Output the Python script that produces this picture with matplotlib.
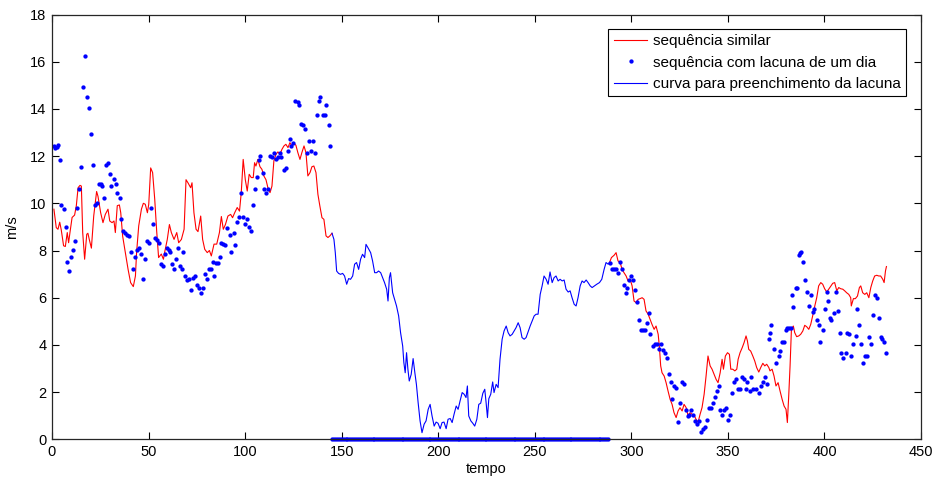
import matplotlib
matplotlib.use("Agg")
import matplotlib.pyplot as plt

plt.rcParams['font.family'] = ['Liberation Sans', 'DejaVu Sans']

# ---- red line: similar sequence (first day) ----
red1_x = [1.0, 2.2, 3.1, 4.0, 4.8, 6.0, 6.9, 7.9, 8.6, 9.3, 10.4, 11.7, 12.6, 13.5, 14.5, 15.2, 15.9,
          16.9, 18.0, 18.6, 19.3, 20.4, 21.6, 23.1, 23.8, 25.2, 26.4, 27.6, 29.0, 29.9, 31.1, 32.1, 32.8,
          33.8, 34.9, 35.6, 36.6, 38.0, 39.4, 40.7, 42.1, 43.2, 43.8, 44.9, 46.3, 47.3, 48.3, 49.4, 50.1,
          51.1, 52.1, 53.2, 54.2, 55.2, 56.6, 57.7, 58.3, 59.7, 60.8, 61.8, 63.2, 64.6, 65.6, 67.0, 68.4,
          69.4, 70.4, 71.8, 72.5, 73.5, 74.6, 75.6, 77.0, 78.0, 79.1, 80.4, 81.5, 82.5, 83.9, 85.3, 86.7,
          87.7, 88.7, 89.8, 91.1, 92.5, 93.5, 94.6, 95.9, 97.1, 98.0, 99.0, 100.1, 101.1, 102.1, 103.2,
          104.2, 104.9, 105.6, 106.6, 107.7, 108.7, 109.7, 110.8, 111.8, 112.9, 113.9, 114.9, 116.0,
          117.0, 118.0, 119.1, 120.1, 121.1, 122.2, 123.2, 124.2, 125.3, 126.3, 127.3, 128.4, 129.4,
          130.5, 131.5, 132.5, 133.6, 134.6, 135.6, 136.7, 137.7, 138.7, 139.8, 140.8, 141.9, 142.9,
          143.9, 145.0]
red1_y = [9.75, 8.97, 8.9, 9.2, 8.87, 8.2, 8.17, 8.76, 8.33, 8.76, 9.4, 9.5, 9.9, 10.66, 10.76, 10.73, 8.76,
          7.63, 8.69, 8.73, 8.47, 8.1, 9.46, 10.5, 10.3, 9.6, 9.18, 9.53, 9.75, 9.25, 9.18, 9.25, 8.76,
          9.9, 9.93, 9.6, 8.6, 7.91, 7.2, 6.64, 6.47, 6.92, 7.91, 9.04, 9.75, 10.0, 9.96, 9.6, 9.96,
          11.5, 11.3, 10.17, 8.83, 7.7, 7.85, 7.63, 7.91, 8.47, 9.1, 8.76, 8.47, 8.76, 8.33, 8.47, 8.9,
          11.0, 10.87, 10.66, 10.87, 9.6, 8.9, 8.8, 9.46, 8.47, 8.05, 7.91, 8.0, 7.77, 8.27, 8.27, 8.76,
          9.44, 8.9, 9.1, 9.46, 9.53, 9.39, 9.6, 9.82, 9.67, 10.45, 11.86, 11.0, 10.52, 11.23, 11.09,
          11.09, 11.72, 11.58, 11.86, 11.55, 11.44, 11.16, 11.0, 10.66, 10.45, 10.73, 11.8, 12.08,
          12.18, 12.08, 12.29, 12.43, 12.5, 12.36, 12.57, 12.43, 12.54, 12.46, 12.15, 11.86, 12.15,
          12.43, 12.15, 11.16, 11.3, 11.55, 11.58, 11.3, 10.38, 9.89, 9.39, 9.32, 8.62, 8.55, 8.62,
          8.73]

# ---- blue line: curve filling the gap ----
fill_x = [145.0, 146.0, 146.7, 147.4, 148.4, 149.4, 150.5, 151.5, 152.6, 153.6, 154.6, 155.7, 156.7,
          157.7, 158.8, 159.8, 160.8, 161.9, 162.6, 163.6, 165.0, 166.0, 167.1, 168.1, 169.1, 170.2,
          171.2, 172.2, 173.3, 174.0, 174.7, 175.3, 176.4, 177.4, 178.4, 179.5, 180.5, 181.6, 182.2,
          182.9, 183.6, 184.3, 185.0, 186.0, 187.0, 187.9, 188.7, 189.6, 190.6, 191.6, 192.7, 193.7,
          194.8, 195.8, 196.8, 197.9, 198.9, 199.9, 201.0, 202.0, 203.0, 204.1, 205.1, 206.2, 207.2,
          208.2, 209.3, 210.3, 211.3, 212.4, 213.4, 214.4, 215.1, 215.8, 216.9, 217.9, 218.9, 220.0,
          221.0, 222.0, 223.1, 224.1, 224.8, 225.5, 226.2, 227.2, 228.2, 228.9, 230.0, 231.0, 232.0,
          233.1, 234.1, 235.2, 236.2, 237.2, 238.3, 239.3, 240.3, 241.4, 242.4, 243.4, 244.5, 245.5,
          246.5, 247.6, 248.6, 249.7, 250.7, 251.7, 252.8, 253.8, 254.8, 255.9, 256.9, 257.9, 259.0,
          260.0, 261.0, 262.1, 263.1, 264.2, 265.2, 266.2, 267.3, 268.3, 269.3, 270.4, 271.4, 272.4,
          273.5, 274.5, 275.5, 276.6, 277.6, 278.7, 279.7, 282.1, 283.5, 284.7, 285.9, 286.9, 288.0,
          288.7]
fill_y = [8.73, 8.47, 7.91, 7.13, 7.03, 6.99, 7.03, 6.92, 6.57, 6.81, 6.78, 6.92, 7.42,
          7.49, 7.2, 7.63, 7.84, 7.7, 8.26, 8.12, 7.91, 7.56, 7.06, 7.06, 7.13, 7.06,
          6.85, 6.64, 6.36, 5.86, 6.85, 7.06, 6.21, 5.93, 5.65, 5.23, 4.52, 3.95, 3.25,
          2.82, 3.67, 2.97, 2.47, 2.75, 3.42, 2.82, 2.33, 1.55, 0.78, 0.28, 0.64, 0.78,
          1.27, 1.48, 0.99, 0.56, 0.73, 0.68, 0.45, 0.71, 0.73, 0.45, 0.85, 0.88, 0.71,
          1.06, 1.41, 1.27, 1.62, 1.98, 1.91, 1.77, 2.26, 0.99, 0.78, 0.68, 0.56, 0.85,
          1.48, 1.53, 1.95, 2.12, 1.55, 0.92, 1.72, 1.91, 2.43, 1.98, 2.33, 2.19, 3.39,
          4.24, 4.59, 4.8, 4.52, 4.38, 4.45, 4.59, 4.73, 4.94, 4.73, 4.31, 4.24, 4.31,
          4.55, 4.8, 5.01, 5.23, 5.3, 5.3, 6.14, 6.5, 6.92, 6.78, 6.57, 7.09, 6.64,
          6.85, 6.92, 6.71, 6.78, 6.71, 6.75, 6.36, 6.24, 6.29, 6.0, 5.72, 5.65, 6.0,
          6.5, 6.71, 6.64, 6.75, 6.64, 6.5, 6.43, 6.57, 6.64, 6.78, 7.2, 7.49, 7.42,
          7.49]

# ---- red line: similar sequence (third day) ----
red2_x = [288.7, 289.7, 291.1, 292.1, 293.1, 294.2, 295.2, 296.2, 297.3, 298.3, 299.4, 300.4, 301.4,
          302.5, 303.5, 304.5, 305.6, 306.6, 307.6, 308.7, 309.7, 310.7, 311.8, 312.8, 313.9, 314.5,
          315.2, 315.9, 317.0, 318.0, 319.0, 320.1, 321.1, 322.1, 323.2, 324.2, 325.2, 326.3, 327.3,
          328.4, 329.4, 330.4, 331.5, 332.5, 333.5, 334.6, 335.6, 336.6, 337.7, 338.7, 339.7, 340.8,
          341.8, 342.9, 343.9, 344.9, 346.0, 347.0, 347.7, 348.7, 349.8, 350.8, 351.5, 352.5, 353.6,
          354.6, 355.3, 356.3, 357.4, 358.4, 359.4, 360.1, 360.8, 361.8, 362.9, 363.9, 364.9, 366.0,
          367.0, 368.1, 369.1, 370.1, 371.2, 371.8, 372.9, 373.9, 374.9, 376.0, 377.0, 378.1, 379.1,
          380.1, 380.8, 381.5, 382.2, 382.9, 383.9, 384.6, 385.6, 386.7, 387.7, 388.8, 389.8, 390.8,
          391.9, 392.9, 393.9, 395.0, 396.0, 397.0, 398.1, 399.1, 400.1, 401.2, 402.2, 403.3, 404.3,
          405.3, 406.4, 407.4, 408.4, 409.5, 410.5, 411.5, 412.6, 413.6, 413.9, 415.0, 416.0, 417.1,
          418.1, 418.8, 419.8, 420.9, 421.9, 423.0, 424.0, 425.0, 426.0, 427.1, 428.1, 429.1, 430.2,
          430.9, 431.6, 432.1]
red2_y = [7.49, 7.7, 7.8, 7.91, 7.56, 7.49, 7.2, 7.06, 6.92, 6.71, 6.78, 6.5, 5.86,
          5.79, 5.93, 5.96, 6.0, 5.93, 5.44, 5.3, 5.08, 4.87, 4.66, 4.8, 4.45, 3.95,
          3.11, 2.82, 2.68, 2.4, 2.05, 1.69, 1.48, 1.13, 0.92, 1.2, 1.34, 1.2, 1.48,
          1.34, 0.99, 1.13, 1.06, 1.02, 0.85, 0.73, 1.06, 1.34, 1.91, 2.68, 3.53, 3.11,
          2.97, 2.75, 2.54, 2.4, 2.82, 3.39, 2.97, 3.53, 3.67, 3.6, 2.97, 2.97, 2.9,
          2.97, 3.39, 3.67, 3.88, 4.1, 4.38, 4.17, 3.81, 3.74, 3.53, 3.32, 3.04, 2.85,
          3.04, 3.22, 3.11, 3.18, 3.04, 2.9, 2.97, 2.68, 2.26, 2.4, 2.05, 1.69, 1.41,
          1.27, 0.71, 1.84, 3.11, 4.66, 4.8, 4.52, 4.35, 4.38, 4.45, 4.59, 4.83, 4.77,
          4.66, 4.87, 5.23, 5.65, 6.0, 6.5, 6.64, 6.57, 6.38, 6.24, 6.36, 6.5, 6.61,
          6.64, 6.29, 6.43, 6.38, 6.36, 6.29, 6.21, 6.14, 6.0, 5.65, 5.96, 5.96, 6.07,
          6.43, 6.5, 6.21, 6.14, 6.21, 6.0, 6.43, 6.71, 6.92, 6.95, 6.92, 6.92, 6.78,
          6.64, 7.13, 7.32]

# ---- blue dots: sequence with a one-day gap ----
dots1_x = [1.0, 1.7, 2.4, 3.1, 4.1, 4.8, 6.2, 7.3, 7.9, 9.0, 10.0, 11.0, 12.1, 13.1, 14.0, 15.2, 15.9,
           16.9, 18.1, 19.0, 20.2, 21.1, 22.1, 23.3, 24.2, 25.2, 26.1, 26.9, 28.0, 29.0, 30.0, 30.7,
           31.9, 33.0, 33.8, 35.0, 35.9, 36.9, 38.0, 39.0, 40.0, 41.1, 41.9, 43.2, 44.2, 44.9, 45.9,
           47.1, 48.0, 49.0, 50.1, 51.1, 52.1, 53.2, 54.2, 55.2, 56.3, 57.3, 58.3, 59.4, 60.4, 61.1,
           62.1, 63.2, 64.2, 65.3, 66.3, 67.3, 67.8, 69.0, 70.1, 71.1, 72.2, 73.2, 73.9, 75.1, 76.0,
           77.0, 78.0, 79.1, 80.1, 81.1, 82.2, 83.2, 84.1, 84.9, 86.0, 87.0, 87.7, 88.7, 89.8, 90.8,
           92.0, 92.9, 94.2, 94.9, 95.9, 97.0, 98.0, 98.7, 100.1, 101.1, 102.0, 103.2, 103.9, 104.9,
           106.1, 107.0, 107.8, 109.1, 109.7, 110.8, 111.8, 112.8, 113.9, 114.9, 116.0, 117.0, 118.0,
           118.7, 120.1, 121.1, 122.2, 123.2, 123.9, 124.9, 126.0, 127.3, 128.0, 129.1, 129.9, 130.8,
           132.2, 133.2, 134.3, 135.3, 136.0, 137.0, 138.1, 138.7, 140.1, 141.2, 141.9, 143.2, 144.1]
dots1_y = [12.43, 12.36, 12.4, 12.46, 11.84, 9.93, 9.75, 9.0, 7.51, 7.13, 7.73, 8.02, 8.4, 9.82, 10.62,
           11.53, 14.94, 16.24, 14.52, 14.03, 12.92, 11.62, 9.93, 10.03, 10.83, 10.8, 10.73, 10.24,
           11.62, 11.72, 11.26, 10.73, 11.05, 10.83, 10.45, 10.24, 9.32, 8.83, 8.76, 8.64, 8.62, 7.95,
           7.23, 7.74, 8.02, 8.12, 7.84, 6.81, 7.63, 8.4, 8.3, 9.82, 9.11, 8.52, 8.43, 8.3, 7.44, 7.34,
           7.84, 8.12, 8.02, 7.95, 7.44, 7.23, 7.63, 8.12, 7.34, 7.23, 7.94, 6.92, 6.75, 6.78, 6.33,
           6.84, 6.92, 6.53, 6.43, 6.21, 6.43, 7.02, 6.81, 7.23, 7.23, 7.51, 6.92, 7.46, 7.49, 7.74,
           8.3, 8.26, 8.22, 8.94, 8.64, 7.94, 8.73, 8.25, 9.21, 9.44, 10.45, 9.44, 9.12, 9.32, 9.01,
           8.83, 9.92, 10.62, 11.13, 11.84, 12.0, 11.3, 10.62, 10.42, 10.62, 12.0, 11.95, 12.12, 11.86,
           11.95, 12.12, 11.95, 11.41, 11.51, 12.23, 12.74, 12.43, 12.54, 14.34, 14.29, 14.15, 13.35,
           13.33, 13.14, 12.12, 12.64, 12.22, 12.64, 12.12, 13.73, 14.32, 14.52, 13.73, 13.73, 14.15,
           13.33, 12.43]

gap_x = list(range(145, 289))
gap_y = [0.0] * len(gap_x)

dots2_x = [289.0, 290.0, 291.1, 292.1, 293.1, 294.2, 295.2, 296.2, 297.3, 298.0, 298.7, 299.7, 300.7,
           302.1, 303.1, 304.2, 305.2, 306.3, 307.3, 308.3, 309.0, 309.7, 311.1, 312.1, 313.2, 314.2,
           315.2, 316.3, 317.3, 318.3, 319.4, 320.4, 321.3, 322.1, 323.2, 324.2, 325.2, 326.3, 327.3,
           328.4, 329.4, 330.1, 331.1, 332.1, 333.2, 334.2, 334.9, 335.9, 337.0, 338.0, 339.4, 340.4,
           341.5, 342.5, 343.5, 344.6, 345.3, 346.0, 347.0, 348.0, 349.1, 349.8, 351.1, 352.2, 353.2,
           354.2, 355.3, 356.3, 357.4, 358.4, 359.4, 360.1, 361.2, 362.2, 363.2, 364.3, 366.0, 367.0,
           368.1, 369.1, 370.1, 371.2, 371.9, 372.5, 373.9, 374.9, 376.3, 377.2, 378.1, 379.1, 380.1,
           380.8, 381.8, 382.5, 383.2, 383.9, 385.3, 386.0, 386.7, 387.4, 388.1, 389.1, 389.8, 390.8,
           391.9, 392.9, 393.9, 394.6, 396.0, 397.0, 397.7, 399.1, 400.1, 401.2, 401.9, 402.9, 403.6,
           405.0, 406.2, 407.0, 408.1, 408.8, 409.8, 411.2, 411.9, 412.9, 414.0, 415.0, 416.4, 417.1,
           418.1, 419.1, 420.2, 420.9, 421.9, 422.9, 424.0, 425.3, 426.0, 427.1, 428.1, 429.1, 429.8,
           430.9, 431.9]
dots2_y = [7.46, 7.23, 7.23, 7.23, 7.03, 7.51, 7.23, 6.55, 6.21, 6.43, 6.75, 6.92, 6.75,
           6.33, 5.82, 5.06, 4.63, 4.63, 4.63, 4.94, 5.34, 4.45, 3.95, 4.03, 4.03, 3.81,
           4.03, 3.79, 3.64, 3.46, 2.75, 2.43, 1.72, 2.26, 2.19, 0.73, 1.53, 2.43, 2.33,
           1.24, 0.99, 1.02, 1.24, 1.02, 0.78, 0.64, 0.78, 0.31, 0.42, 0.54, 0.82, 1.34,
           1.34, 1.53, 1.81, 2.05, 2.26, 1.24, 1.02, 1.24, 1.34, 0.82, 1.02, 1.95, 2.43,
           2.54, 2.15, 2.15, 2.66, 2.57, 2.15, 2.43, 2.05, 2.66, 2.15, 2.15, 1.95, 2.26,
           2.43, 2.66, 2.33, 4.24, 4.52, 4.83, 3.84, 3.22, 3.53, 3.74, 4.12, 4.12, 4.63,
           4.73, 4.73, 4.73, 6.1, 5.62, 6.43, 6.43, 7.82, 7.88, 7.94, 7.51, 6.75, 6.24,
           5.65, 6.1, 5.4, 5.51, 5.06, 4.83, 4.12, 4.63, 5.54, 6.24, 5.85, 5.16, 5.06,
           5.34, 6.24, 5.44, 4.52, 3.67, 3.46, 3.67, 4.52, 4.45, 3.53, 4.03, 4.38, 5.54,
           4.83, 4.03, 3.22, 3.53, 3.53, 4.35, 4.03, 5.25, 6.1, 6.0, 5.16, 4.35, 4.27,
           4.12, 3.64]

x_ticks = [0, 50, 100, 150, 200, 250, 300, 350, 400, 450]
y_ticks = [0, 2, 4, 6, 8, 10, 12, 14, 16, 18]

W, H = 937, 478
fig = plt.figure(figsize=(W / 100, H / 100), dpi=100)
ax = fig.add_axes([52 / W, 1 - 439.3 / H, (921 - 52) / W, (439.3 - 14.5) / H])

red = '#ff0000'
blue = '#0000ff'
lw = 0.8

l_red, = ax.plot(red1_x, red1_y, color=red, lw=lw, label='sequência similar')
ax.plot(red2_x, red2_y, color=red, lw=lw)
dot_style = dict(linestyle='none', marker='o', markersize=3.1, color=blue, markeredgewidth=0)
l_dots, = ax.plot(dots1_x, dots1_y, label='sequência com lacuna de um dia', **dot_style)
ax.plot(dots2_x, dots2_y, **dot_style)
ax.plot(gap_x, gap_y, clip_on=False, **dot_style)
l_fill, = ax.plot(fill_x, fill_y, color=blue, lw=lw, label='curva para preenchimento da lacuna')

ax.set_xlim(0, 450)
ax.set_ylim(0, 18)
ax.set_xticks(x_ticks)
ax.set_yticks(y_ticks)
ax.tick_params(direction='in', length=5, width=0.8, top=True, right=True,
               labelsize=10.5, colors='black', pad=4)
for s in ax.spines.values():
    s.set_linewidth(0.9)
    s.set_color('#262626')

ax.set_xlabel('tempo', fontsize=10.5, labelpad=2)
ax.set_ylabel('m/s', fontsize=10.5, labelpad=8)

leg = ax.legend(handles=[l_red, l_dots, l_fill], loc='upper right',
                bbox_to_anchor=(1 - 15 / 869, 1 - 14.5 / 425), borderaxespad=0,
                fancybox=False, edgecolor='black', framealpha=1, fontsize=11,
                handlelength=2.2, handletextpad=0.35, labelspacing=0.48,
                borderpad=0.35, numpoints=1)
leg.get_frame().set_linewidth(0.8)

fig.savefig('out.png', dpi=100)
